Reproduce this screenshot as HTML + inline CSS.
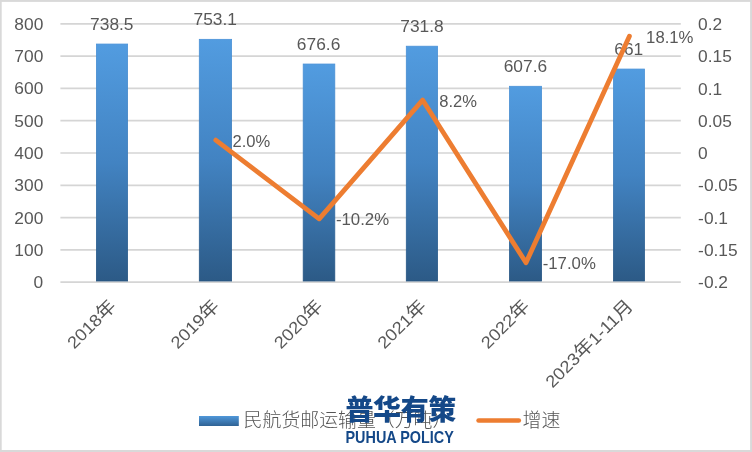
<!DOCTYPE html>
<html lang="zh"><head><meta charset="utf-8"><title>民航货邮运输量</title>
<style>
html,body{margin:0;padding:0;background:#fff;}
body{width:752px;height:452px;overflow:hidden;}
svg{display:block;}
text{font-family:"Liberation Sans","Noto Sans CJK SC",sans-serif;fill:#585858;}
.cj{font-family:"Liberation Sans","Noto Sans CJK SC",sans-serif;}
.lg{font-family:"Noto Sans CJK SC","Liberation Sans",sans-serif;font-weight:300;fill:#555;}
</style></head><body>
<svg width="752" height="452" viewBox="0 0 752 452">
<defs>
<linearGradient id="bg" x1="0" y1="0" x2="0" y2="1">
<stop offset="0" stop-color="#529ce0"/><stop offset="0.5" stop-color="#4283c2"/><stop offset="1" stop-color="#2c5a86"/>
</linearGradient>
<linearGradient id="bs" x1="0" y1="0" x2="0" y2="1">
<stop offset="0" stop-color="#4a92d8"/><stop offset="0.5" stop-color="#3a79b6"/><stop offset="1" stop-color="#24527f"/>
</linearGradient>
<linearGradient id="lg" x1="0" y1="0" x2="0" y2="1">
<stop offset="0" stop-color="#4f97d9"/><stop offset="1" stop-color="#2f6294"/>
</linearGradient>
</defs>
<rect x="0" y="0" width="752" height="452" fill="#d9d9d9"/>
<rect x="1.7" y="1.9" width="748.4" height="448.1" fill="#ffffff"/>

<line x1="60.4" y1="282.10" x2="680.8" y2="282.10" stroke="#d5d5d5" stroke-width="1.7"/>
<line x1="60.4" y1="249.83" x2="680.8" y2="249.83" stroke="#d5d5d5" stroke-width="1.7"/>
<line x1="60.4" y1="217.55" x2="680.8" y2="217.55" stroke="#d5d5d5" stroke-width="1.7"/>
<line x1="60.4" y1="185.28" x2="680.8" y2="185.28" stroke="#d5d5d5" stroke-width="1.7"/>
<line x1="60.4" y1="153.00" x2="680.8" y2="153.00" stroke="#d5d5d5" stroke-width="1.7"/>
<line x1="60.4" y1="120.72" x2="680.8" y2="120.72" stroke="#d5d5d5" stroke-width="1.7"/>
<line x1="60.4" y1="88.45" x2="680.8" y2="88.45" stroke="#d5d5d5" stroke-width="1.7"/>
<line x1="60.4" y1="56.17" x2="680.8" y2="56.17" stroke="#d5d5d5" stroke-width="1.7"/>
<line x1="60.4" y1="23.90" x2="680.8" y2="23.90" stroke="#d5d5d5" stroke-width="1.7"/>
<rect x="96.40" y="44.05" width="31.20" height="236.95" fill="url(#bg)" stroke="url(#bs)" stroke-width="0.8"/>
<rect x="199.30" y="39.34" width="32.30" height="241.66" fill="url(#bg)" stroke="url(#bs)" stroke-width="0.8"/>
<rect x="303.20" y="64.03" width="31.60" height="216.97" fill="url(#bg)" stroke="url(#bs)" stroke-width="0.8"/>
<rect x="406.30" y="46.21" width="31.30" height="234.79" fill="url(#bg)" stroke="url(#bs)" stroke-width="0.8"/>
<rect x="509.50" y="86.30" width="32.10" height="194.70" fill="url(#bg)" stroke="url(#bs)" stroke-width="0.8"/>
<rect x="613.50" y="69.06" width="31.00" height="211.94" fill="url(#bg)" stroke="url(#bs)" stroke-width="0.8"/>
<text x="33.64" y="288.10" font-size="17" textLength="9.66" lengthAdjust="spacingAndGlyphs">0</text>
<text x="14.33" y="255.83" font-size="17" textLength="28.97" lengthAdjust="spacingAndGlyphs">100</text>
<text x="14.33" y="223.55" font-size="17" textLength="28.97" lengthAdjust="spacingAndGlyphs">200</text>
<text x="14.33" y="191.28" font-size="17" textLength="28.97" lengthAdjust="spacingAndGlyphs">300</text>
<text x="14.33" y="159.00" font-size="17" textLength="28.97" lengthAdjust="spacingAndGlyphs">400</text>
<text x="14.33" y="126.72" font-size="17" textLength="28.97" lengthAdjust="spacingAndGlyphs">500</text>
<text x="14.33" y="94.45" font-size="17" textLength="28.97" lengthAdjust="spacingAndGlyphs">600</text>
<text x="14.33" y="62.17" font-size="17" textLength="28.97" lengthAdjust="spacingAndGlyphs">700</text>
<text x="14.33" y="29.90" font-size="17" textLength="28.97" lengthAdjust="spacingAndGlyphs">800</text>
<text x="698.10" y="288.20" font-size="17" textLength="29.94" lengthAdjust="spacingAndGlyphs">-0.2</text>
<text x="698.10" y="255.93" font-size="17" textLength="39.59" lengthAdjust="spacingAndGlyphs">-0.15</text>
<text x="698.10" y="223.65" font-size="17" textLength="29.94" lengthAdjust="spacingAndGlyphs">-0.1</text>
<text x="698.10" y="191.38" font-size="17" textLength="39.59" lengthAdjust="spacingAndGlyphs">-0.05</text>
<text x="698.10" y="159.10" font-size="17" textLength="9.66" lengthAdjust="spacingAndGlyphs">0</text>
<text x="698.10" y="126.82" font-size="17" textLength="33.76" lengthAdjust="spacingAndGlyphs">0.05</text>
<text x="698.10" y="94.55" font-size="17" textLength="24.11" lengthAdjust="spacingAndGlyphs">0.1</text>
<text x="698.10" y="62.27" font-size="17" textLength="33.76" lengthAdjust="spacingAndGlyphs">0.15</text>
<text x="698.10" y="30.00" font-size="17" textLength="24.11" lengthAdjust="spacingAndGlyphs">0.2</text>
<text x="90.09" y="30.05" font-size="17" textLength="43.42" lengthAdjust="spacingAndGlyphs">738.5</text>
<text x="193.49" y="25.34" font-size="17" textLength="43.42" lengthAdjust="spacingAndGlyphs">753.1</text>
<text x="296.89" y="50.03" font-size="17" textLength="43.42" lengthAdjust="spacingAndGlyphs">676.6</text>
<text x="400.29" y="32.21" font-size="17" textLength="43.42" lengthAdjust="spacingAndGlyphs">731.8</text>
<text x="503.69" y="72.30" font-size="17" textLength="43.42" lengthAdjust="spacingAndGlyphs">607.6</text>
<text x="614.32" y="55.06" font-size="17" textLength="28.97" lengthAdjust="spacingAndGlyphs">661</text>
<polyline points="215.80,140.09 319.20,218.84 422.60,100.07 526.00,262.74 629.40,36.16" fill="none" stroke="#ed7d31" stroke-width="4.8" stroke-linecap="round" stroke-linejoin="round"/>
<text x="232.50" y="146.69" font-size="17" textLength="37.72" lengthAdjust="spacingAndGlyphs">2.0%</text>
<text x="335.90" y="225.44" font-size="17" textLength="53.21" lengthAdjust="spacingAndGlyphs">-10.2%</text>
<text x="439.30" y="106.67" font-size="17" textLength="37.72" lengthAdjust="spacingAndGlyphs">8.2%</text>
<text x="542.70" y="269.34" font-size="17" textLength="53.21" lengthAdjust="spacingAndGlyphs">-17.0%</text>
<text x="646.10" y="42.76" font-size="17" textLength="47.38" lengthAdjust="spacingAndGlyphs">18.1%</text>
<text class="cj" transform="translate(117.10,307) rotate(-45) scale(1.08,1)" font-size="17" text-anchor="end">2018<tspan font-size="18.2">年</tspan></text>
<text class="cj" transform="translate(220.50,307) rotate(-45) scale(1.08,1)" font-size="17" text-anchor="end">2019<tspan font-size="18.2">年</tspan></text>
<text class="cj" transform="translate(323.90,307) rotate(-45) scale(1.08,1)" font-size="17" text-anchor="end">2020<tspan font-size="18.2">年</tspan></text>
<text class="cj" transform="translate(427.30,307) rotate(-45) scale(1.08,1)" font-size="17" text-anchor="end">2021<tspan font-size="18.2">年</tspan></text>
<text class="cj" transform="translate(530.70,307) rotate(-45) scale(1.08,1)" font-size="17" text-anchor="end">2022<tspan font-size="18.2">年</tspan></text>
<text class="cj" transform="translate(634.10,307) rotate(-45) scale(1.08,1)" font-size="17" text-anchor="end">2023<tspan font-size="18.2">年</tspan>1-11<tspan font-size="18.2">月</tspan></text>
<rect x="199" y="416" width="39.8" height="10" fill="url(#lg)"/>
<text class="lg" x="243.6" y="426.6" font-size="18.9">民航货邮运输量（万吨）</text>
<line x1="478.6" y1="420.5" x2="518.8" y2="420.5" stroke="#ed7d31" stroke-width="4.6" stroke-linecap="round"/>
<text class="lg" x="522.6" y="426.6" font-size="18.9">增速</text>
<text x="345.5" y="420.4" font-size="28" font-weight="900" textLength="110.8" lengthAdjust="spacing" style="font-family:'Noto Sans CJK SC',sans-serif;fill:#144888">普华有策</text>
<text x="345.5" y="442.6" font-size="16.6" font-weight="700" textLength="108.3" lengthAdjust="spacingAndGlyphs" style="fill:#144888">PUHUA POLICY</text>
</svg>
</body></html>
